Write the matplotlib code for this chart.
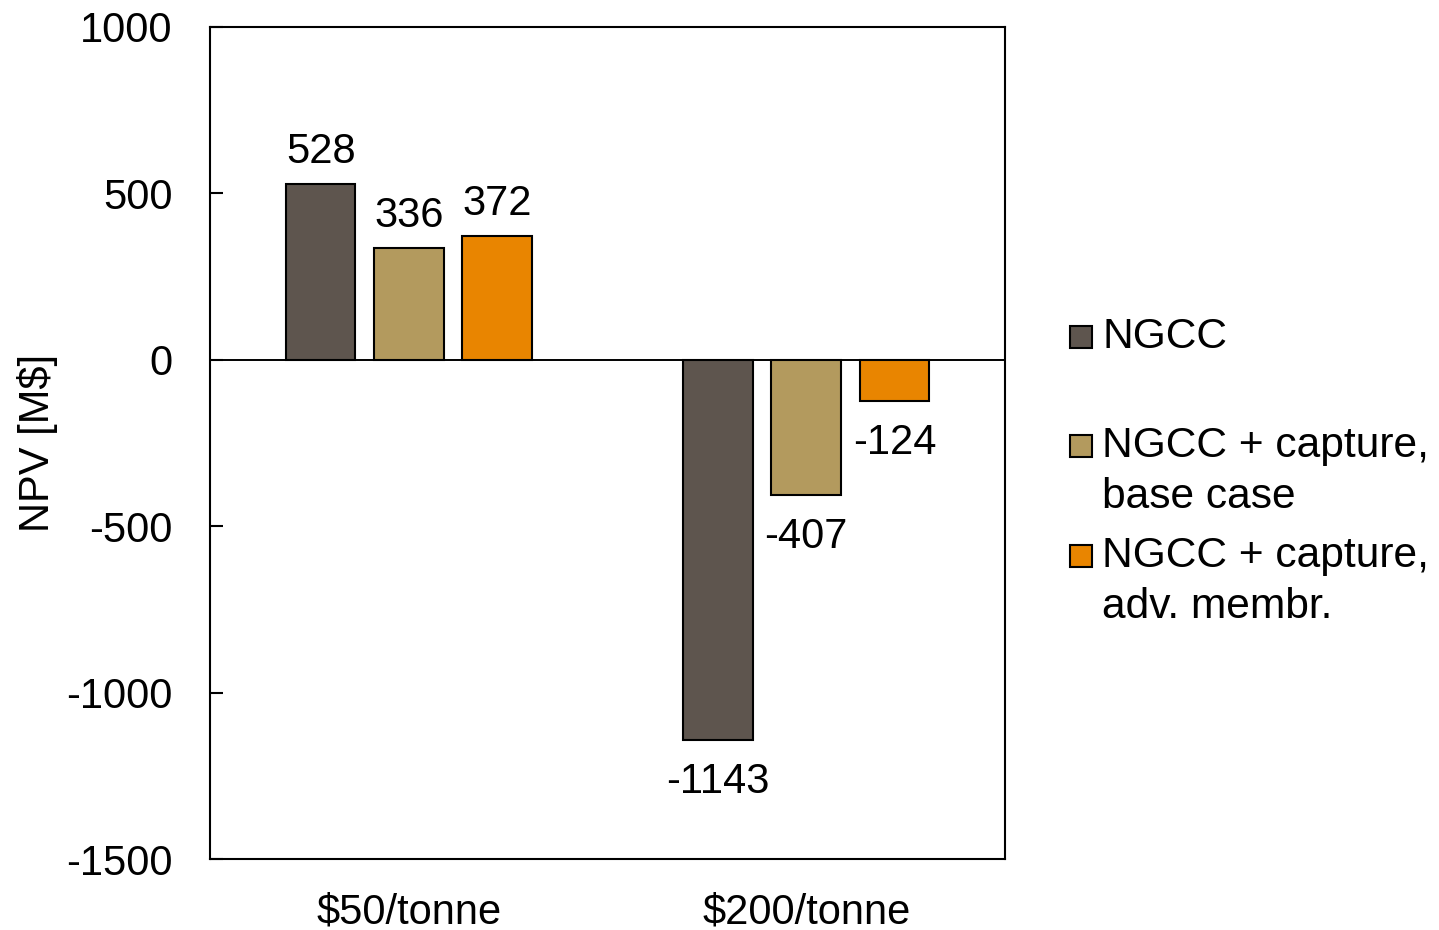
import matplotlib
matplotlib.use("Agg")
import matplotlib.pyplot as plt
from matplotlib.patches import Rectangle
import numpy as np

plt.rcParams['font.family'] = ['Liberation Sans', 'DejaVu Sans']

# Carbon price scenarios and net present value of each plant configuration
categories = ["$50/tonne", "$200/tonne"]
series_names = ["NGCC", "NGCC + capture,\nbase case", "NGCC + capture,\nadv. membr."]
npv_ngcc = [528, -1143]
npv_capture_base = [336, -407]
npv_capture_adv = [372, -124]
series_values = [npv_ngcc, npv_capture_base, npv_capture_adv]
colors = ["#5E554E", "#B39A5E", "#E98500"]

yticks = [1000, 500, 0, -500, -1000, -1500]

W, H, DPI = 1439, 930, 100
fig = plt.figure(figsize=(W / DPI, H / DPI), dpi=DPI)
ax = fig.add_axes([210 / W, 1 - 859 / H, (1005 - 210) / W, (859 - 27) / H])

x = np.arange(len(categories))
offset = 0.2217
width = 0.175
FS = 30

for i, (vals, col) in enumerate(zip(series_values, colors)):
    pos = x + (i - 1) * offset
    ax.bar(pos, vals, width, color=col, edgecolor="black", linewidth=1.5, zorder=2)
    for xp, v in zip(pos, vals):
        if v >= 0:
            ax.annotate(f"{v}", (xp, v), xytext=(0, 15), textcoords="offset points",
                        ha="center", va="baseline", fontsize=FS)
        else:
            ax.annotate(f"{v}", (xp, v), xytext=(0, -38), textcoords="offset points",
                        ha="center", va="baseline", fontsize=FS)

ax.axhline(0, color="black", linewidth=1.4, zorder=3)

ax.set_xlim(-0.5, 1.5)
ax.set_ylim(-1500, 1000)
ax.set_yticks(yticks)
ax.set_yticklabels([str(t) for t in yticks], fontsize=FS)
ax.set_xticks(x)
ax.set_xticklabels(categories, fontsize=FS)
ax.tick_params(axis="y", direction="in", length=9.5, width=1.5, pad=27)
ax.tick_params(axis="x", length=0, pad=24)
for s in ax.spines.values():
    s.set_linewidth(1.5)
ax.set_ylabel("NPV [M$]", fontsize=30, labelpad=6)

# Legend drawn as patches and text in figure pixel coordinates
def fx(px):
    return px / W

def fy(py):
    return 1 - py / H

legend_first_baseline = [348, 457, 567]
line_gap = 51
for name, col, base in zip(series_names, colors, legend_first_baseline):
    fig.add_artist(Rectangle((fx(1070), fy(base)), 22 / W, 22 / H,
                             transform=fig.transFigure, facecolor=col,
                             edgecolor="black", linewidth=1.5))
    for k, line in enumerate(name.split("\n")):
        fig.text(fx(1102), fy(base + k * line_gap), line, fontsize=30.6,
                 ha="left", va="baseline")

fig.savefig("out.png", dpi=DPI)
